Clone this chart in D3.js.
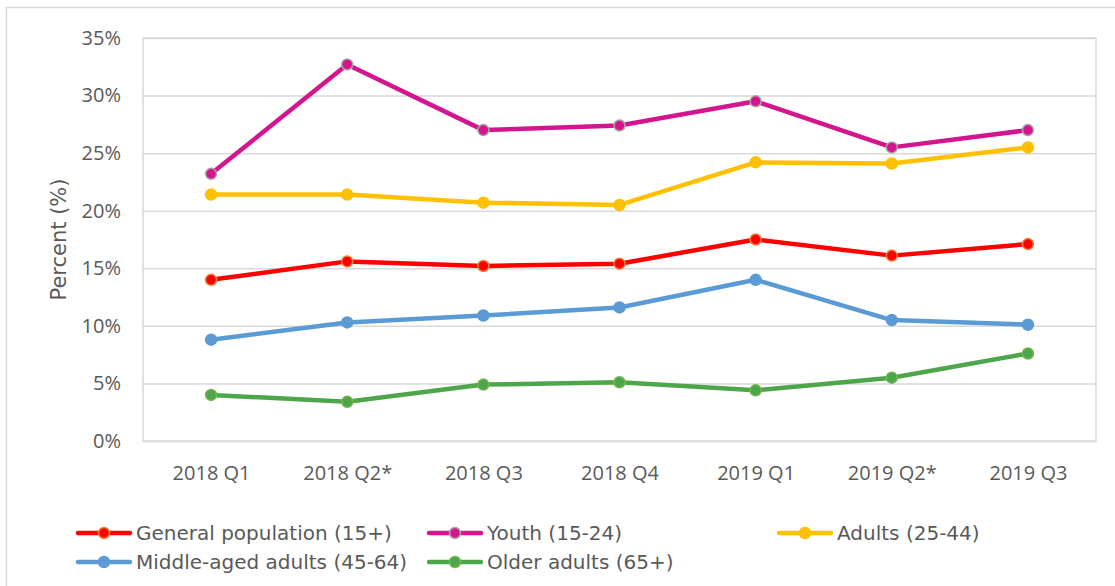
<!DOCTYPE html>
<html>
<head>
<meta charset="utf-8">
<script src="https://cdn.jsdelivr.net/npm/d3@7"></script>
<style>
  body { margin: 0; background: #fff; overflow: hidden; }
  svg { display: block; }
</style>
</head>
<body>
<div id="chart"></div>
<script>
// categories and series (percent)
const quarters = ['2018 Q1', '2018 Q2*', '2018 Q3', '2018 Q4', '2019 Q1', '2019 Q2*', '2019 Q3'];
const generalPop = [14.0, 15.6, 15.2, 15.4, 17.5, 16.1, 17.1];
const youth = [23.2, 32.7, 27.0, 27.4, 29.5, 25.5, 27.0];
const adults = [21.4, 21.4, 20.7, 20.5, 24.2, 24.1, 25.5];
const middleAged = [8.8, 10.3, 10.9, 11.6, 14.0, 10.5, 10.1];
const olderAdults = [4.0, 3.4, 4.9, 5.1, 4.4, 5.5, 7.6];
const yTicks = [0, 5, 10, 15, 20, 25, 30, 35];

const series = [
  { name: 'General population (15+)', values: generalPop, color: '#ff0000', stroke: '#f0803a' },
  { name: 'Youth (15-24)', values: youth, color: '#d4158d', stroke: '#a6a6a6' },
  { name: 'Adults (25-44)', values: adults, color: '#ffc000', stroke: '#ffc000' },
  { name: 'Middle-aged adults (45-64)', values: middleAged, color: '#5b9bd5', stroke: '#5b9bd5' },
  { name: 'Older adults (65+)', values: olderAdults, color: '#4ea64a', stroke: '#72b54c' }
];

// SIZE
const width = 1115;
const height = 586;
const margin = { top: 38, right: 19, bottom: 145, left: 143 };
const innerWidth = width - margin.left - margin.right;
const innerHeight = height - margin.top - margin.bottom;

const tickFont = 'Open Sans, sans-serif';
const labelFont = 'DejaVu Sans, sans-serif';

const svg = d3.select('#chart').append('svg')
  .attr('width', width)
  .attr('height', height);

// outer chart frame: top and left edges are what shows in the picture
svg.append('line')
  .attr('x1', 6).attr('x2', width).attr('y1', 7.5).attr('y2', 7.5)
  .attr('stroke', '#d9d9d9').attr('stroke-width', 1.5);
svg.append('line')
  .attr('x1', 6.5).attr('x2', 6.5).attr('y1', 7).attr('y2', height)
  .attr('stroke', '#d9d9d9').attr('stroke-width', 1.5);

const g = svg.append('g')
  .attr('transform', `translate(${margin.left}, ${margin.top})`);

const xScale = d3.scalePoint()
  .domain(quarters)
  .range([0, innerWidth])
  .padding(0.5);

const yScale = d3.scaleLinear()
  .domain([0, 35])
  .range([innerHeight, 0]);

// grid + y ticks
const yAxis = d3.axisLeft(yScale)
  .tickValues(yTicks)
  .tickSize(-innerWidth)
  .tickPadding(22)
  .tickFormat(d => d + '%');

g.append('g')
  .call(yAxis)
  .call(s => s.select('.domain').remove())
  .call(s => s.selectAll('line').attr('stroke', '#d9d9d9').attr('stroke-width', 1.5))
  .call(s => s.selectAll('text')
    .attr('fill', '#595959')
    .style('font-family', tickFont)
    .style('font-size', '20px'));

// plot area frame
g.append('rect')
  .attr('x', 0).attr('y', 0)
  .attr('width', innerWidth).attr('height', innerHeight)
  .attr('fill', 'none')
  .attr('stroke', '#d9d9d9')
  .attr('stroke-width', 1.5);

const xAxis = d3.axisBottom(xScale).tickSize(0).tickPadding(25);

g.append('g')
  .attr('transform', `translate(0, ${innerHeight})`)
  .call(xAxis)
  .call(s => s.select('.domain').remove())
  .call(s => s.selectAll('text')
    .attr('fill', '#595959')
    .style('font-family', tickFont)
    .style('font-size', '20px'));

// y title
svg.append('text')
  .attr('transform', `translate(66, ${margin.top + innerHeight / 2}) rotate(-90)`)
  .attr('text-anchor', 'middle')
  .attr('fill', '#595959')
  .style('font-family', labelFont)
  .style('font-size', '21px')
  .text('Percent (%)');

// lines
const line = d3.line()
  .x((d, i) => xScale(quarters[i]))
  .y(d => yScale(d));

series.forEach(s => {
  g.append('path')
    .datum(s.values)
    .attr('fill', 'none')
    .attr('stroke', s.color)
    .attr('stroke-width', 4.5)
    .attr('stroke-linejoin', 'round')
    .attr('d', line);

  g.selectAll(null).data(s.values)
    .enter().append('circle')
    .attr('cx', (d, i) => xScale(quarters[i]))
    .attr('cy', d => yScale(d))
    .attr('r', 5.5)
    .attr('fill', s.color)
    .attr('stroke', s.stroke)
    .attr('stroke-width', 1.5);
});

// legend
const legendPos = [
  { x: 76, y: 533 }, { x: 427, y: 533 }, { x: 777, y: 533 },
  { x: 76, y: 562 }, { x: 427, y: 562 }
];

const legend = svg.append('g');
series.forEach((s, i) => {
  const p = legendPos[i];
  const item = legend.append('g').attr('transform', `translate(${p.x}, ${p.y})`);
  item.append('line')
    .attr('x1', 2).attr('x2', 54).attr('y1', 0).attr('y2', 0)
    .attr('stroke', s.color)
    .attr('stroke-width', 4.5)
    .attr('stroke-linecap', 'round');
  item.append('circle')
    .attr('cx', 28).attr('cy', 0).attr('r', 5.5)
    .attr('fill', s.color)
    .attr('stroke', s.stroke)
    .attr('stroke-width', 1.5);
  item.append('text')
    .attr('x', 60).attr('y', 0)
    .attr('dy', '0.36em')
    .attr('fill', '#595959')
    .style('font-family', labelFont)
    .style('font-size', '20px')
    .text(s.name);
});
</script>
</body>
</html>
